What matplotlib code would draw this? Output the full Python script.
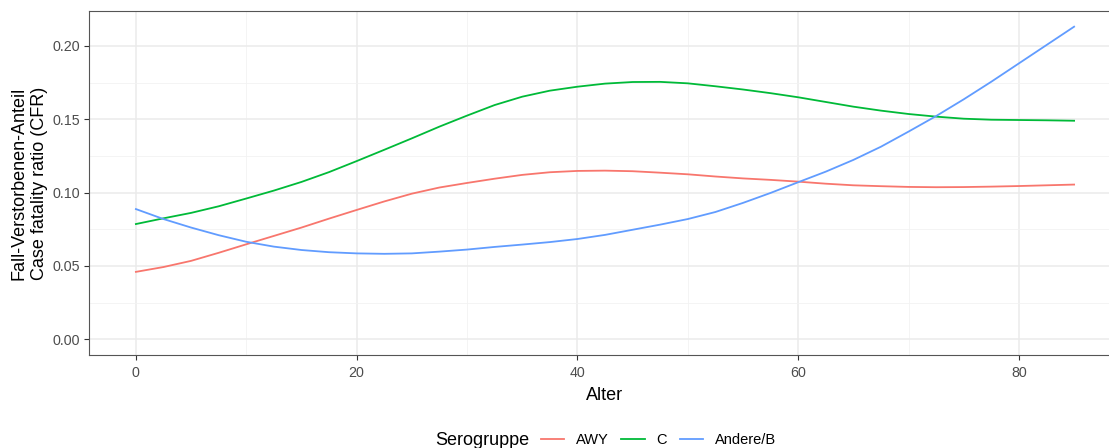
import matplotlib
matplotlib.use("Agg")
import matplotlib.pyplot as plt
from matplotlib.lines import Line2D
from matplotlib.ticker import MultipleLocator

plt.rcParams['font.family'] = ['Liberation Sans', 'DejaVu Sans']

age = [0, 2.5, 5, 7.5, 10, 12.5, 15, 17.5, 20, 22.5, 25, 27.5, 30, 32.5, 35, 37.5,
       40, 42.5, 45, 47.5, 50, 52.5, 55, 57.5, 60, 62.5, 65, 67.5, 70, 72.5, 75,
       77.5, 80, 82.5, 85]
cfr_awy = [0.0460, 0.0493, 0.0535, 0.0590, 0.0648, 0.0705, 0.0762, 0.0823, 0.0882,
           0.0940, 0.0993, 0.1035, 0.1066, 0.1095, 0.1121, 0.1139, 0.1148, 0.1150,
           0.1146, 0.1136, 0.1125, 0.1110, 0.1097, 0.1087, 0.1075, 0.1061, 0.1050,
           0.1044, 0.1039, 0.1037, 0.1038, 0.1041, 0.1045, 0.1050, 0.1055]
cfr_c = [0.0786, 0.0825, 0.0862, 0.0907, 0.0960, 0.1014, 0.1073, 0.1140, 0.1215,
         0.1292, 0.1370, 0.1450, 0.1525, 0.1597, 0.1654, 0.1695, 0.1722, 0.1743,
         0.1754, 0.1755, 0.1745, 0.1725, 0.1703, 0.1678, 0.1650, 0.1618, 0.1586,
         0.1559, 0.1536, 0.1518, 0.1504, 0.1497, 0.1495, 0.1493, 0.1490]
cfr_b = [0.0888, 0.0820, 0.0762, 0.0710, 0.0665, 0.0632, 0.0609, 0.0594, 0.0586,
         0.0583, 0.0586, 0.0598, 0.0612, 0.0630, 0.0646, 0.0663, 0.0684, 0.0712,
         0.0747, 0.0782, 0.0820, 0.0868, 0.0930, 0.0998, 0.1071, 0.1143, 0.1223,
         0.1313, 0.1416, 0.1522, 0.1636, 0.1756, 0.1881, 0.2006, 0.2131]

series = [("AWY", cfr_awy, "#F8766D"), ("C", cfr_c, "#00BA38"), ("Andere/B", cfr_b, "#619CFF")]

W, H = 1109, 448
fig = plt.figure(figsize=(W / 100, H / 100), dpi=100)
left, right, top, bottom = 89, 1121, 11, 355
ax = fig.add_axes([left / W, 1 - bottom / H, (right - left) / W, (bottom - top) / H])

for name, vals, col in series:
    ax.plot(age, vals, color=col, lw=1.3, solid_joinstyle='round', zorder=3)

ax.set_xlim(-4.25, 89.25)
ax.set_ylim(-0.01066, 0.2238)
ax.xaxis.set_minor_locator(MultipleLocator(10))
ax.yaxis.set_minor_locator(MultipleLocator(0.025))
ax.set_yticks([0, 0.05, 0.10, 0.15, 0.20])
ax.set_yticklabels(["0.00", "0.05", "0.10", "0.15", "0.20"])
ax.set_xticks([0, 20, 40, 60, 80])
ax.set_xticklabels(["0", "20", "40", "60", "80"])

ax.grid(which='major', color='#EBEBEB', lw=1.1, zorder=0)
ax.grid(which='minor', color='#F2F2F2', lw=0.6, zorder=0)
ax.set_axisbelow(True)
for s in ax.spines.values():
    s.set_color('#555555')
    s.set_linewidth(0.8)
ax.spines['right'].set_visible(False)
ax.tick_params(which='major', length=3.5, width=0.8, color='#333333',
               labelcolor='#4D4D4D', labelsize=10.3)
ax.tick_params(axis='x', which='major', pad=4.5)
ax.tick_params(axis='y', which='major', pad=3)
ax.tick_params(which='minor', length=0)

ax.set_xlabel("Alter", fontsize=13, color='black', labelpad=5)
ax.set_ylabel("Fall-Verstorbenen-Anteil\nCase fatality ratio (CFR)", fontsize=13,
              color='black', labelpad=3, linespacing=1.28)

handles = [Line2D([0], [0], color=c, lw=1.3) for _, _, c in series]
labels = [n for n, _, _ in series]
fig.legend(handles, labels, loc='center', bbox_to_anchor=(658.4 / W, 1 - 440 / H),
           ncol=3, frameon=False, fontsize=10.5, handlelength=1.58, handletextpad=0.82,
           columnspacing=0.87, borderpad=0, borderaxespad=0)
fig.text(435.7 / W, 1 - 440 / H, "Serogruppe", fontsize=13, ha='left', va='center')

fig.savefig("out.png", dpi=100)
